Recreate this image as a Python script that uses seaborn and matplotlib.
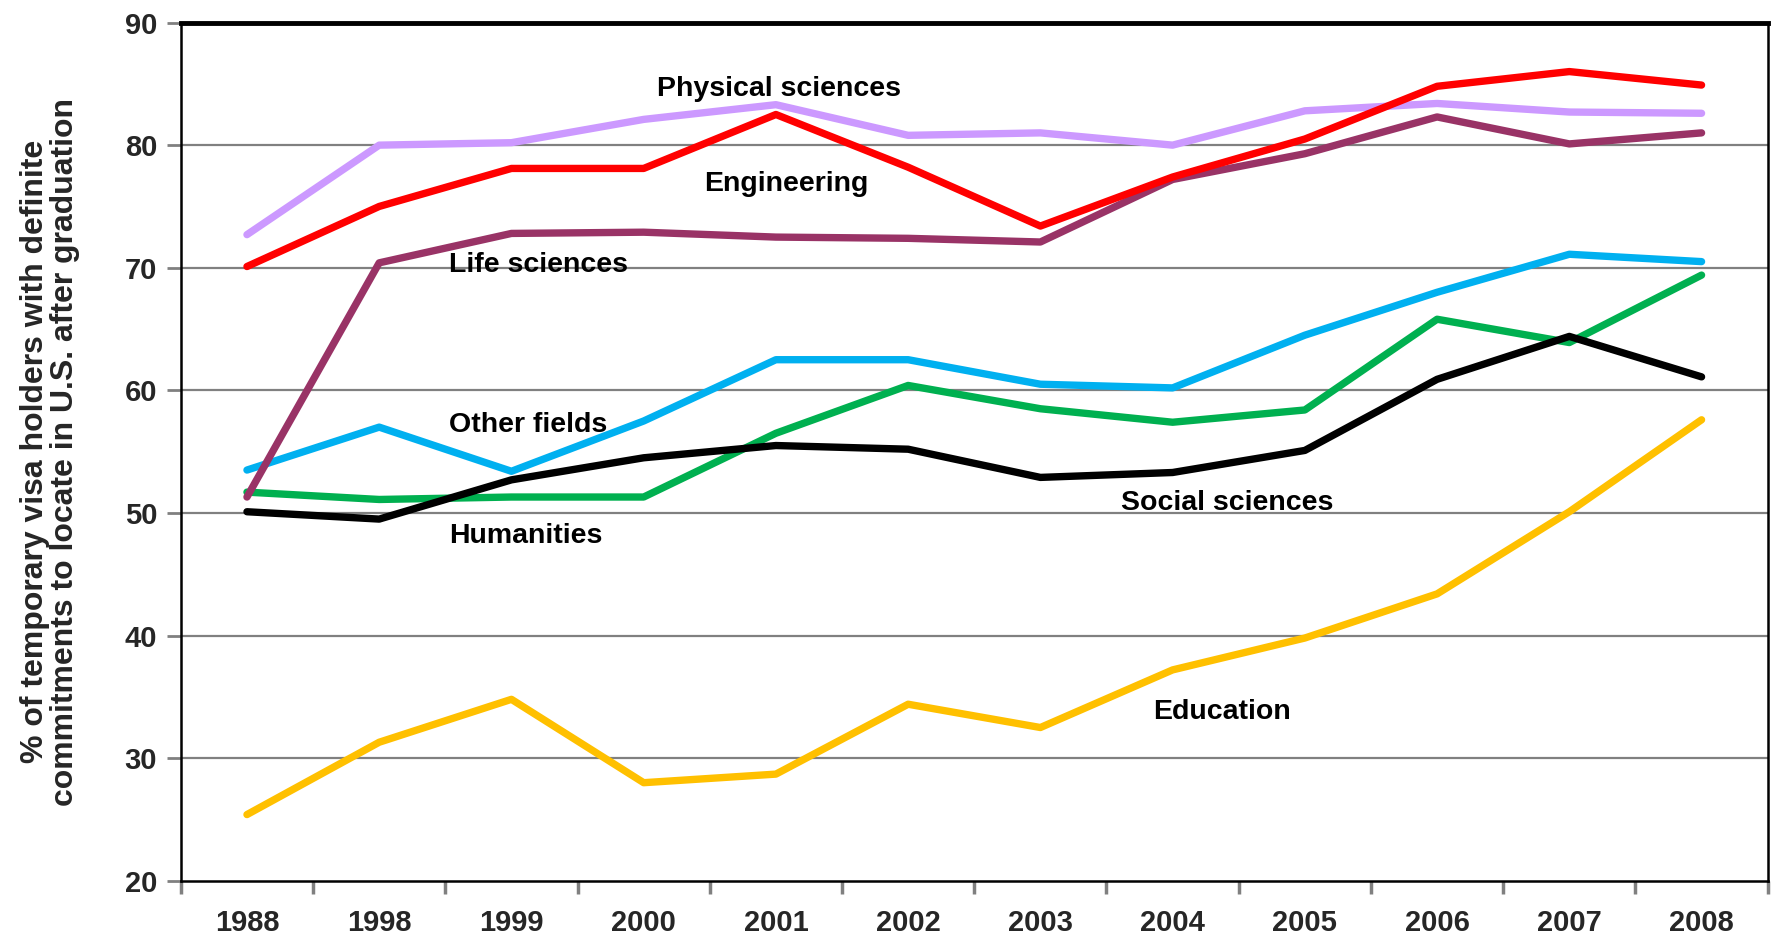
import pandas as pd
import matplotlib
matplotlib.use("Agg")
import matplotlib.pyplot as plt
import seaborn as sns
from matplotlib.ticker import FixedLocator

# === data ===
years = ["1988", "1998", "1999", "2000", "2001", "2002",
         "2003", "2004", "2005", "2006", "2007", "2008"]

physical_sciences = [72.7, 80.0, 80.2, 82.1, 83.3, 80.8, 81.0, 80.0, 82.8, 83.4, 82.7, 82.6]
engineering = [70.1, 75.0, 78.1, 78.1, 82.5, 78.2, 73.4, 77.4, 80.5, 84.8, 86.0, 84.9]
life_sciences = [51.3, 70.4, 72.8, 72.9, 72.5, 72.4, 72.1, 77.2, 79.3, 82.3, 80.1, 81.0]
other_fields = [53.5, 57.0, 53.4, 57.5, 62.5, 62.5, 60.5, 60.2, 64.5, 68.0, 71.1, 70.5]
humanities = [51.7, 51.1, 51.3, 51.3, 56.5, 60.4, 58.5, 57.4, 58.4, 65.8, 63.9, 69.4]
social_sciences = [50.1, 49.5, 52.7, 54.5, 55.5, 55.2, 52.9, 53.3, 55.1, 60.9, 64.4, 61.1]
education = [25.4, 31.3, 34.8, 28.0, 28.7, 34.4, 32.5, 37.2, 39.8, 43.4, 50.1, 57.6]

series = {
    "Education": education,
    "Humanities": humanities,
    "Social sciences": social_sciences,
    "Other fields": other_fields,
    "Physical sciences": physical_sciences,
    "Life sciences": life_sciences,
    "Engineering": engineering,
}

colors = {
    "Education": "#FFC000",
    "Humanities": "#00B050",
    "Social sciences": "#000000",
    "Other fields": "#00B0F0",
    "Physical sciences": "#CC99FF",
    "Life sciences": "#993366",
    "Engineering": "#FF0000",
}

# in-chart labels: (x position in category units, y value)
label_pos = {
    "Physical sciences": (3.1, 84.6),
    "Engineering": (3.46, 76.8),
    "Life sciences": (1.53, 70.2),
    "Other fields": (1.53, 57.2),
    "Humanities": (1.53, 48.1),
    "Social sciences": (6.61, 50.8),
    "Education": (6.85, 33.8),
}

rows = []
for field, vals in series.items():
    for i, v in enumerate(vals):
        rows.append({"idx": i, "year": years[i], "field": field, "pct": v})
df = pd.DataFrame(rows)

sns.set_theme(style="white")
plt.rcParams["font.family"] = ["Liberation Sans", "DejaVu Sans"]
plt.rcParams["font.weight"] = "bold"

fig = plt.figure(figsize=(17.73, 9.39), dpi=100)
ax = fig.add_axes([0.102, 0.062, 0.895, 0.914])

# gridlines first so lines sit on top
for g in range(30, 90, 10):
    ax.axhline(g, color="#808080", lw=1.6, zorder=0)

sns.lineplot(data=df, x="idx", y="pct", hue="field",
             hue_order=list(series.keys()), palette=colors,
             linewidth=5.3, legend=False, ax=ax, zorder=2)

for field, (lx, ly) in label_pos.items():
    ax.text(lx, ly, field, fontsize=20.5, fontweight="bold",
            color="black", va="center", ha="left", zorder=3)

ax.set_xlim(-0.5, 11.5)
ax.set_ylim(20, 90)
ax.set_yticks(range(20, 91, 10))
ax.set_xticks(range(len(years)))
ax.set_xticklabels(years)
ax.xaxis.set_minor_locator(FixedLocator([i - 0.5 for i in range(len(years) + 1)]))

ax.tick_params(axis="x", which="major", length=0, pad=20, labelsize=21)
ax.tick_params(axis="x", which="minor", length=9, width=2.5, color="#808080",
               direction="out", bottom=True)
ax.tick_params(axis="y", which="major", length=10, width=2, color="#808080",
               direction="out", left=True, pad=7, labelsize=21)
for lab in ax.get_xticklabels() + ax.get_yticklabels():
    lab.set_fontweight("bold")

ax.set_xlabel("")
ax.set_ylabel("% of temporary visa holders with definite\n"
              "commitments to locate in U.S. after graduation",
              fontsize=23, fontweight="bold", linespacing=1.0, va="center")
ax.yaxis.set_label_coords(-0.0826, 0.5)

for side in ["left", "bottom", "right"]:
    ax.spines[side].set_color("black")
    ax.spines[side].set_linewidth(1.8)
ax.spines["top"].set_color("black")
ax.spines["top"].set_linewidth(3.5)

fig.savefig("out.png", dpi=100)
